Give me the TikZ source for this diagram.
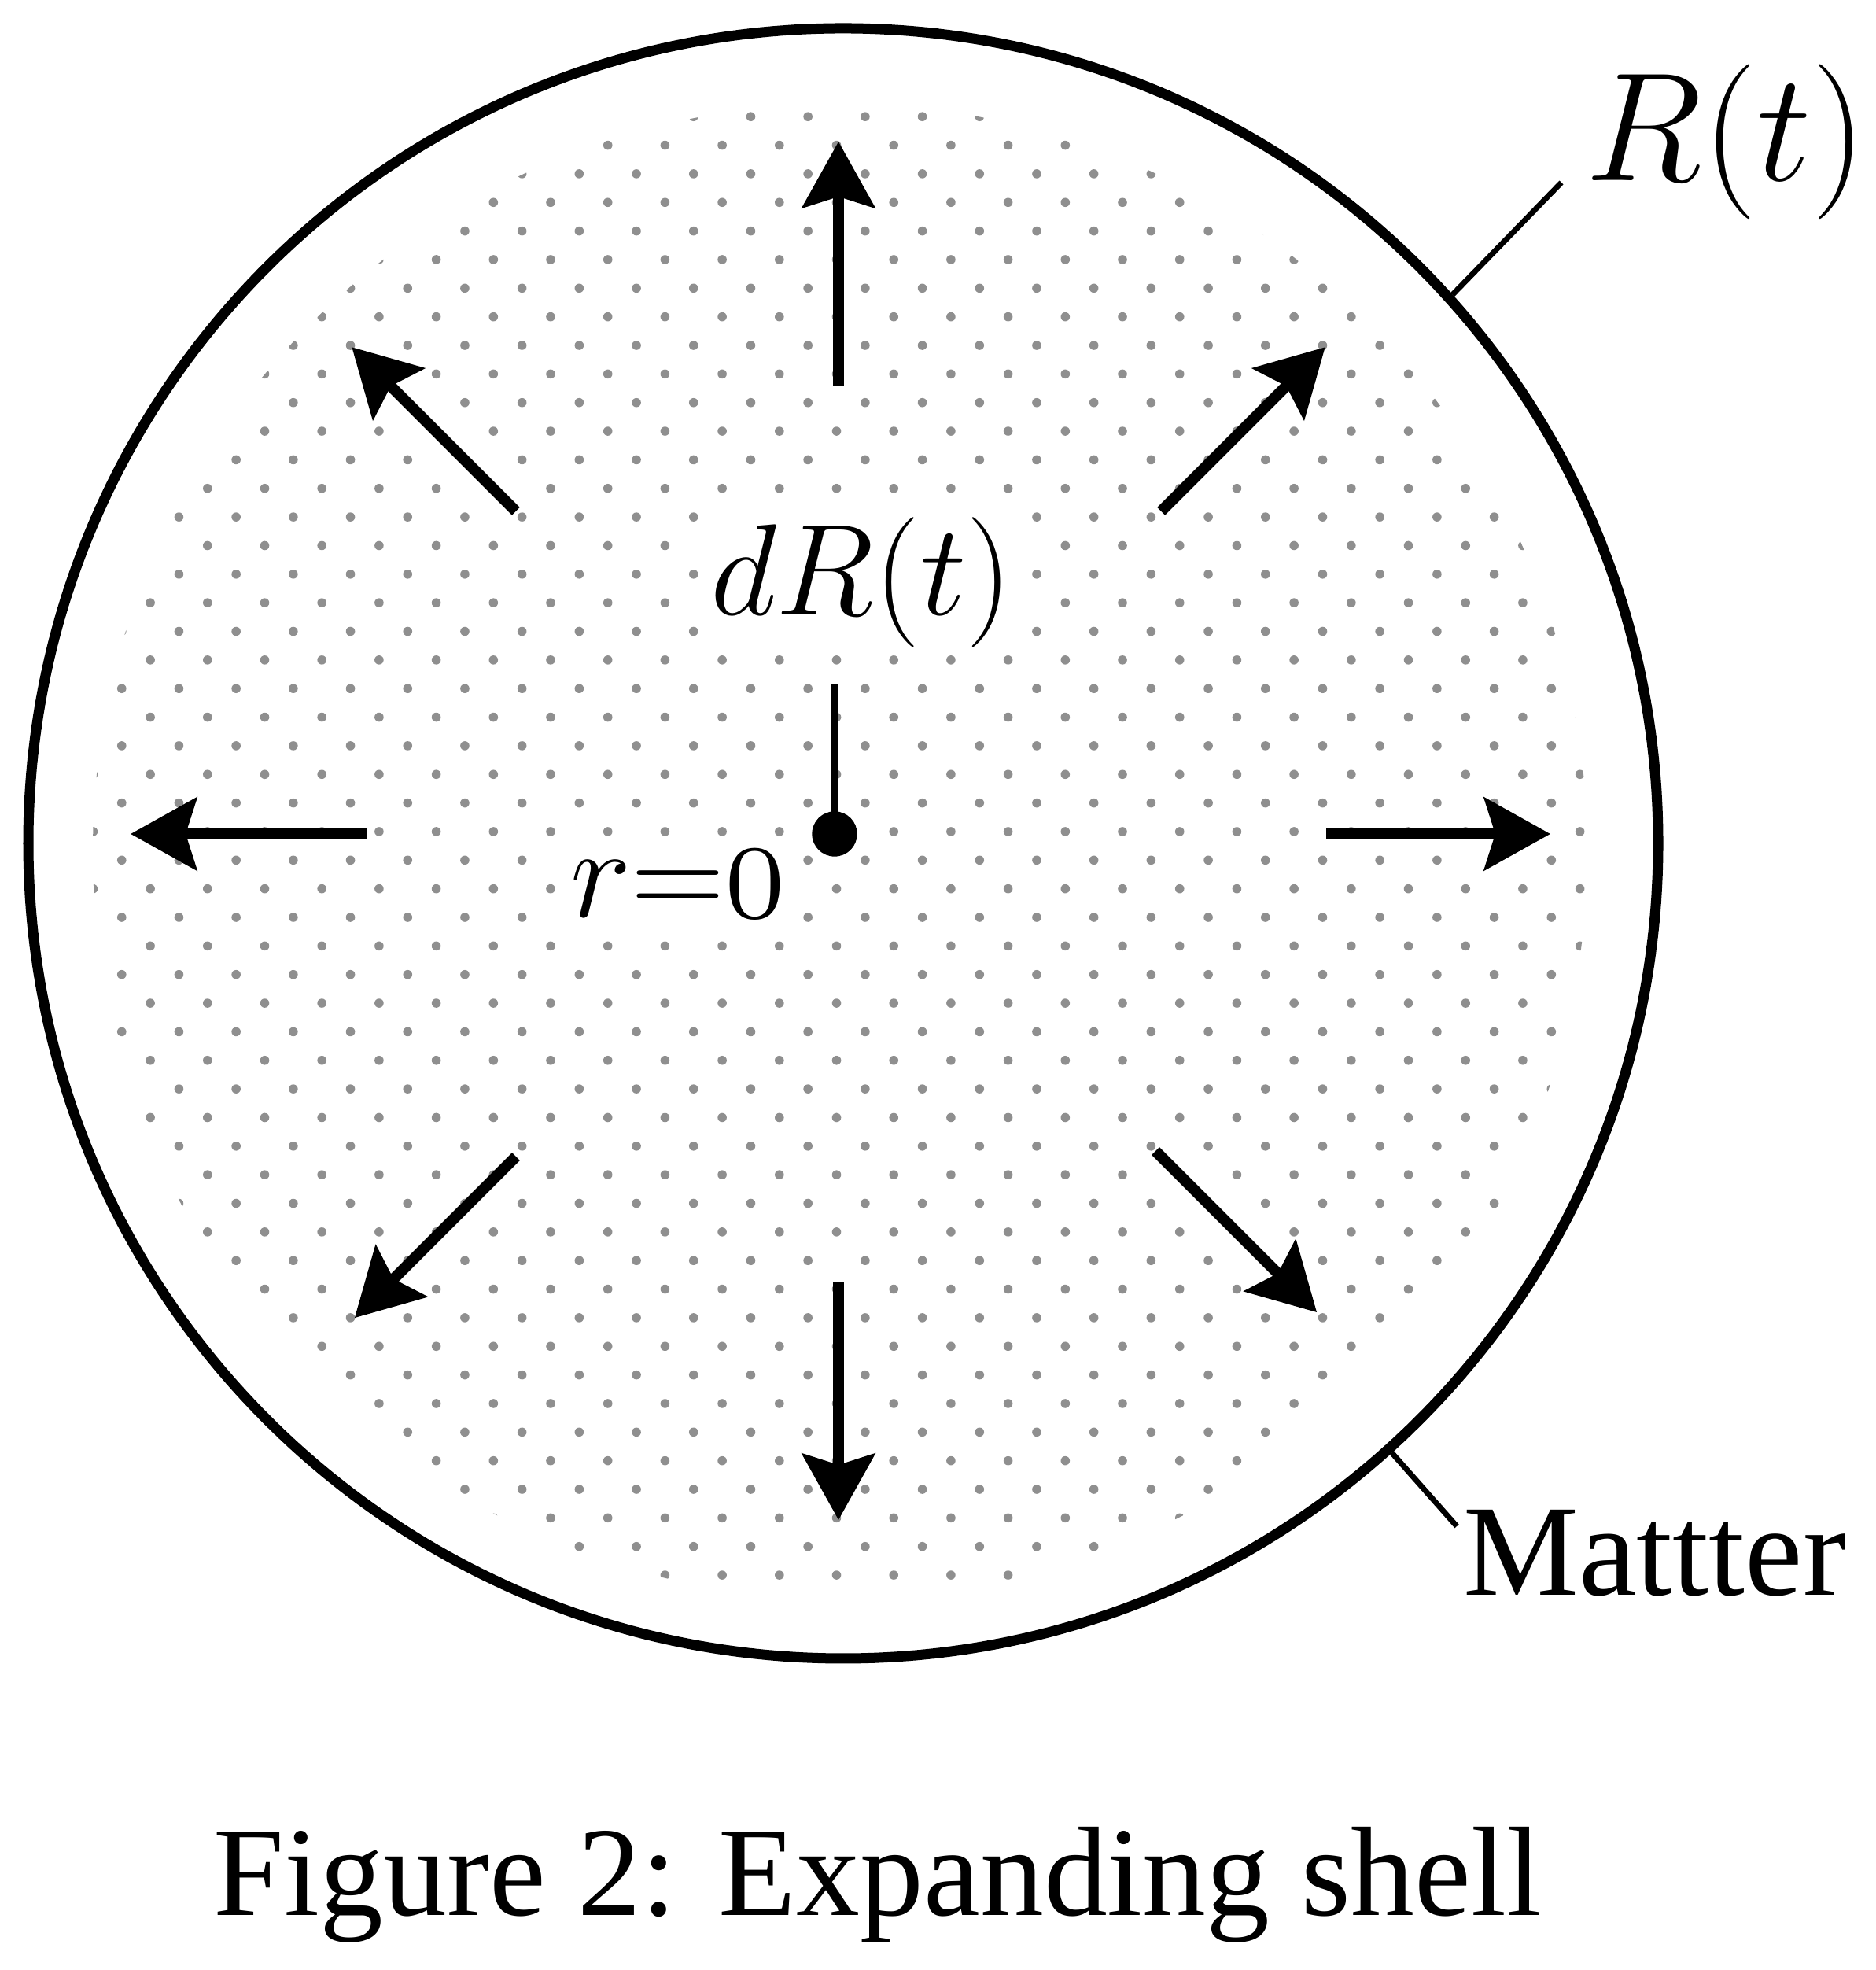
\RequirePackage{fix-cm}
\documentclass[tikz,border=0pt]{standalone}
\usepackage[no-math]{fontspec}
\usepackage{graphicx}
\setmainfont{Liberation Serif}
\usetikzlibrary{arrows.meta,positioning}

\begin{document}
\begin{tikzpicture}[
        shell/.style={draw, circle, line width=3.7pt, minimum size=20.72cm, inner sep=0pt},
        flow/.style={-{Stealth[length=0.84cm, width=0.92cm, inset=0.14cm]}, line width=4pt},
        tick/.style={line width=2pt},
        speck/.style={fill=black!44},
        mathlab/.style={font=\fontsize{47}{50}\selectfont, inner sep=2pt, fill=white},
        textlab/.style={font=\fontsize{47}{50}\selectfont, inner sep=0pt}
    ]
        \useasboundingbox (0,0) rectangle (23.84,25.04);

        \begin{scope}
            \clip (10.68,14.22) circle (9.5);
            \foreach \j in {-27,...,26} {
                \foreach \i in {-9,...,18} {
                    \fill[speck] ({7.00+0.727*\i+0.3635*mod(abs(\j),2)}, {14.47+0.3635*\j}) circle (0.058);
                }
            }
        \end{scope}

        \node[shell] (shell) at (10.72,14.32) {};
        \node[draw, fill, circle, minimum size=0.56cm, inner sep=0pt] (origin) at (10.61,14.44) {};
        \coordinate (hub) at (10.66,14.44);

        \node[mathlab, anchor=base] (dR) at (10.95,17.22) {$dR(t)$};
        \node[mathlab, anchor=base] (r0) at (8.62,13.38) {$r{=}$\scalebox{0.95}[1.17]{$\mathchar"0130$}};
        \coordinate[above=1.9cm of origin.center] (stem);
        \draw[line width=2.6pt] (origin.center) -- (stem);

        \foreach \a/\s/\e in {0/6.2/9.05, 45/5.8/8.75, 90/5.7/8.8, 135/5.8/8.75, 180/6.0/9.0, 225/5.8/8.7, 270/5.7/8.72, 315/5.7/8.6} {
            \draw[flow] ([shift={(\a:\s)}]hub) -- ([shift={(\a:\e)}]hub);
        }

        \node[textlab, font=\fontsize{56}{60}\selectfont, anchor=base west] (Rt) at (20.15,22.74) {$R(t)$};
        \node[textlab, anchor=base west] (Mt) at (18.6,4.76) {Mattter};
        \draw[tick] (shell.42) -- ([shift={(-0.3,-0.02)}]Rt.base west);
        \draw[tick] (shell.-48) -- ([shift={(-0.08,0.88)}]Mt.base west);

        \node[font=\fontsize{46}{50}\selectfont, anchor=base] (caption) at (11.16,0.69) {Figure 2: Expanding shell};
    \end{tikzpicture}
\end{document}
